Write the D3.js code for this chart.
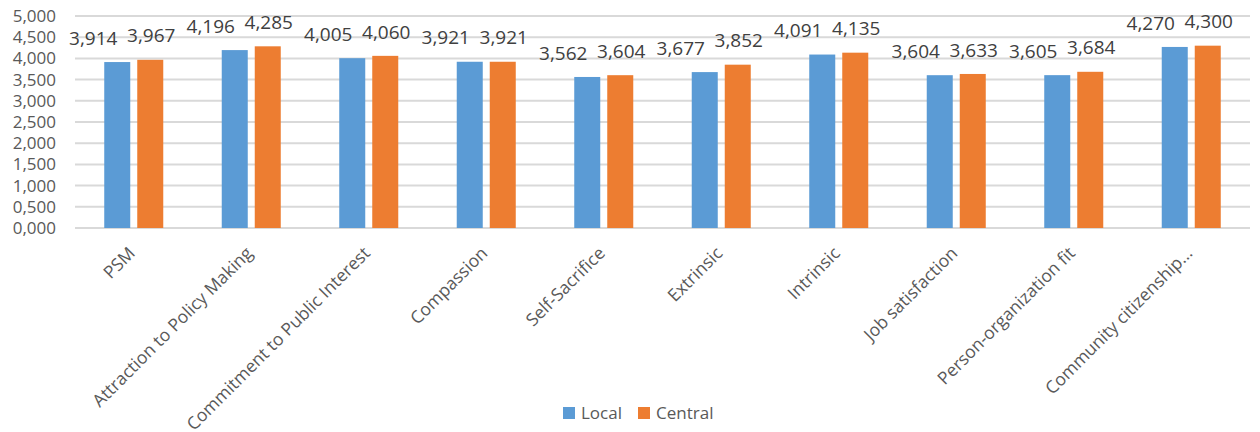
<!DOCTYPE html>
<html>
<head>
<meta charset="utf-8">
<script src="https://cdn.jsdelivr.net/npm/d3@7"></script>
<style>
  body { margin: 0; background: #fff; }
  text { font-family: "Open Sans", sans-serif; }
</style>
</head>
<body>
<svg id="chart"></svg>
<script>
const CATEGORIES = ["PSM", "Attraction to Policy Making", "Commitment to Public Interest",
  "Compassion", "Self-Sacrifice", "Extrinsic", "Intrinsic", "Job satisfaction",
  "Person-organization fit", "Community citizenship..."];
const SERIES = ["Local", "Central"];
const LOCAL = [3.914, 4.196, 4.005, 3.921, 3.562, 3.677, 4.091, 3.604, 3.605, 4.270];
const CENTRAL = [3.967, 4.285, 4.060, 3.921, 3.604, 3.852, 4.135, 3.633, 3.684, 4.300];
const Y_TICKS = [0, 0.5, 1, 1.5, 2, 2.5, 3, 3.5, 4, 4.5, 5];
const COLORS = ["#5B9BD5", "#ED7D31"];

const W = 1260, H = 432;
const M = { top: 16, right: 10, bottom: 204, left: 75 };

const loc = d3.formatLocale({ decimal: ",", thousands: ".", grouping: [3], currency: ["", ""] });
const fmt = loc.format(".3f");

const svg = d3.select("#chart").attr("width", W).attr("height", H);

const x = d3.scaleBand().domain(CATEGORIES).range([M.left, W - M.right]);
const y = d3.scaleLinear().domain([0, 5]).range([H - M.bottom, M.top]);
const xs = d3.scaleBand().domain(SERIES).range([0, x.bandwidth()]).paddingInner(0.212).paddingOuter(0.886);

// gridlines
svg.append("g").selectAll("line").data(Y_TICKS).join("line")
  .attr("x1", M.left).attr("x2", W - M.right)
  .attr("y1", d => y(d)).attr("y2", d => y(d))
  .attr("stroke", "#d9d9d9").attr("stroke-width", 2);

// y labels
svg.append("g").selectAll("text").data(Y_TICKS).join("text")
  .attr("x", 56).attr("y", d => y(d)).attr("dy", "0.35em")
  .attr("text-anchor", "end").attr("font-size", 17).attr("fill", "#595959")
  .text(d => fmt(d));

const rows = CATEGORIES.map((c, i) => ({ cat: c, vals: [LOCAL[i], CENTRAL[i]] }));

const grp = svg.append("g").selectAll("g").data(rows).join("g")
  .attr("transform", d => "translate(" + x(d.cat) + ",0)");

grp.selectAll("rect").data(d => d.vals.map((v, k) => ({ s: SERIES[k], v: v, k: k }))).join("rect")
  .attr("x", d => xs(d.s)).attr("width", xs.bandwidth())
  .attr("y", d => y(d.v)).attr("height", d => y(0) - y(d.v))
  .attr("fill", d => COLORS[d.k]);

grp.selectAll("text").data(d => d.vals.map((v, k) => ({ s: SERIES[k], v: v, k: k }))).join("text")
  .attr("x", d => xs(d.s) + xs.bandwidth() / 2 + (d.k === 0 ? -24 : 1))
  .attr("y", d => y(d.v) - 24).attr("dy", "0.35em")
  .attr("text-anchor", "middle").attr("font-size", 19).attr("fill", "#404040")
  .text(d => fmt(d.v));

// category labels
svg.append("g").selectAll("text").data(CATEGORIES).join("text")
  .attr("transform", d => "translate(" + (x(d) + x.bandwidth() / 2 - 2) + "," + (y(0) + 22) + ") rotate(-45)")
  .attr("text-anchor", "end").attr("dy", "0.35em")
  .attr("font-size", 17.5).attr("fill", "#595959")
  .text(d => d);

// legend
const lg = svg.append("g").attr("transform", "translate(563,407)");
const items = lg.selectAll("g").data(SERIES).join("g")
  .attr("transform", (d, i) => "translate(" + (i * 75) + ",0)");
items.append("rect").attr("width", 12).attr("height", 12).attr("fill", (d, i) => COLORS[i]);
items.append("text").attr("x", 18).attr("y", 6).attr("dy", "0.35em")
  .attr("font-size", 17).attr("fill", "#595959").text(d => d);
</script>
</body>
</html>
